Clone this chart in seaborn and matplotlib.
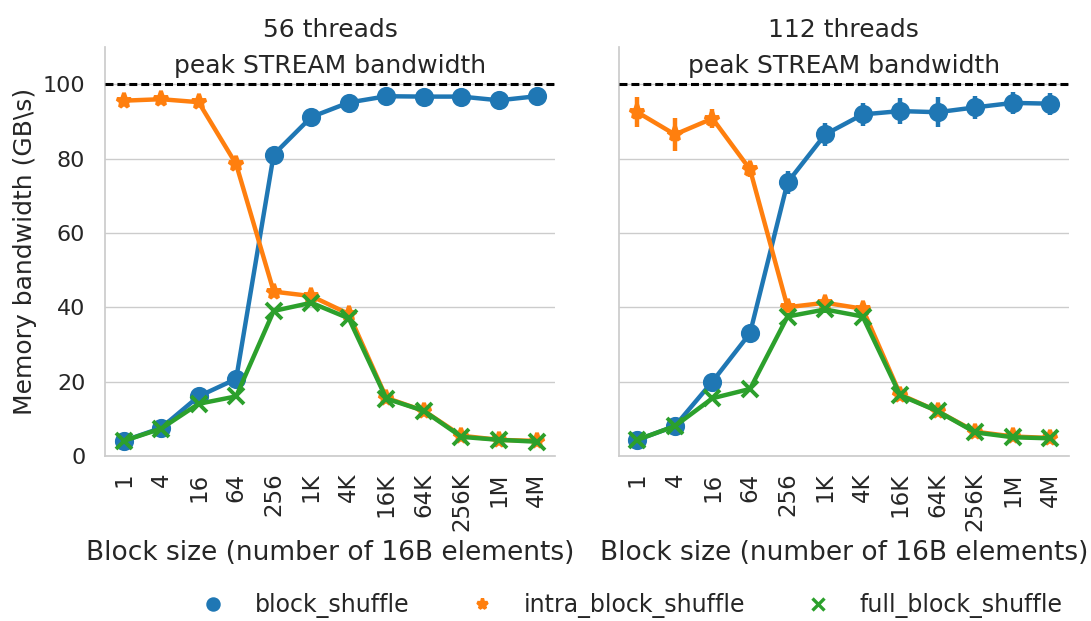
import matplotlib
matplotlib.use("Agg")
import matplotlib.pyplot as plt
from matplotlib.lines import Line2D
import seaborn as sns
import pandas as pd

# block sizes (number of 16B elements)
sizes = ["1", "4", "16", "64", "256", "1K", "4K", "16K", "64K", "256K", "1M", "4M"]
kinds = ["block_shuffle", "intra_block_shuffle", "full_block_shuffle"]

# 56 threads
block_56 = [4.0, 7.5, 16.0, 20.7, 81.1, 91.2, 95.1, 96.8, 96.7, 96.7, 95.7, 96.8]
intra_56 = [95.6, 96.0, 95.2, 78.5, 44.2, 43.0, 38.2, 15.6, 12.1, 5.4, 4.3, 4.0]
full_56 = [4.0, 7.3, 14.0, 16.0, 39.0, 41.2, 37.0, 15.4, 12.1, 5.1, 4.3, 3.8]
block_56_err = [0.5, 0.5, 0.6, 0.6, 0.8, 0.8, 0.6, 0.5, 0.5, 0.5, 0.6, 0.6]
intra_56_err = [0.8, 0.6, 0.8, 0.8, 0.6, 0.6, 0.6, 0.5, 0.5, 0.4, 0.4, 0.4]
full_56_err = [0.5, 0.5, 0.6, 0.6, 0.8, 0.8, 0.6, 0.5, 0.5, 0.4, 0.4, 0.4]

# 112 threads
block_112 = [4.3, 8.0, 20.0, 33.0, 73.6, 86.5, 91.9, 92.8, 92.5, 93.8, 95.0, 94.8]
intra_112 = [92.5, 86.5, 90.8, 77.1, 40.0, 41.2, 39.6, 16.5, 12.0, 6.5, 5.2, 4.8]
full_112 = [4.3, 8.0, 15.5, 18.0, 37.5, 39.4, 37.5, 16.3, 12.0, 6.3, 5.0, 4.7]
block_112_err = [0.6, 0.6, 1.0, 1.2, 3.0, 3.0, 3.0, 3.5, 4.0, 3.0, 3.0, 3.0]
intra_112_err = [4.0, 4.5, 2.5, 2.0, 1.0, 1.0, 1.0, 0.6, 0.6, 0.5, 0.5, 0.5]
full_112_err = [0.6, 0.6, 0.8, 0.8, 1.0, 1.0, 1.0, 0.6, 0.6, 0.5, 0.5, 0.5]

peak = 100

panels = [
    ("56 threads", [block_56, intra_56, full_56], [block_56_err, intra_56_err, full_56_err]),
    ("112 threads", [block_112, intra_112, full_112], [block_112_err, intra_112_err, full_112_err]),
]

sns.set_theme(style="whitegrid")
plt.rcParams["font.family"] = ["DejaVu Sans"]

colors = sns.color_palette("tab10", 3)
markers = ["o", "*", "x"]

fig = plt.figure(figsize=(10.91, 6.21), dpi=100)
ax1 = fig.add_axes([0.096, 0.266, 0.413, 0.658])
ax2 = fig.add_axes([0.567, 0.266, 0.413, 0.658], sharey=ax1)

for ax, (title, series, errs) in zip([ax1, ax2], panels):
    rows = []
    for kind, vals in zip(kinds, series):
        for s, v in zip(sizes, vals):
            rows.append({"size": s, "bw": v, "kind": kind})
    df = pd.DataFrame(rows)
    sns.pointplot(data=df, x="size", y="bw", hue="kind", order=sizes,
                  hue_order=kinds, palette=colors, markers=markers,
                  errorbar=None, ax=ax, legend=False,
                  markersize=11, linewidth=3.2, markeredgewidth=2.8)
    for i, (vals, err) in enumerate(zip(series, errs)):
        ax.errorbar(range(len(sizes)), vals, yerr=err, fmt="none",
                    ecolor=colors[i], elinewidth=3.2, zorder=1)
    ax.axhline(peak, color="black", linestyle=(0, (2.6, 1.3)), linewidth=2.2, zorder=3)
    ax.text((len(sizes) - 1) / 2, peak + 1.6, "peak STREAM bandwidth",
            ha="center", va="bottom", fontsize=18, color=".15")
    ax.set_title(title, fontsize=18, pad=7, color=".15")
    ax.set_xlabel("Block size (number of 16B elements)", fontsize=19, labelpad=6)
    ax.tick_params(axis="x", labelrotation=90, labelsize=16.5, pad=6)
    ax.tick_params(axis="y", labelsize=16, pad=8)
    ax.grid(axis="x", visible=False)
    ax.set_xlim(-0.5, len(sizes) - 0.5)
    sns.despine(ax=ax)

ax1.set_ylim(0, 110)
ax1.set_yticks([0, 20, 40, 60, 80, 100])
ax1.set_ylabel("Memory bandwidth (GB\\s)", fontsize=18)
ax2.set_ylabel("")
ax2.tick_params(axis="y", labelleft=False)

handles = [Line2D([], [], linestyle="none", marker=m, color=c, markersize=8,
                  markeredgewidth=2.4) for m, c in zip(markers, colors)]
fig.legend(handles, kinds, loc="lower center", bbox_to_anchor=(0.574, -0.03),
           ncol=3, frameon=False, fontsize=17, columnspacing=2.1, handletextpad=0.75)

fig.savefig("out.png", dpi=100)
